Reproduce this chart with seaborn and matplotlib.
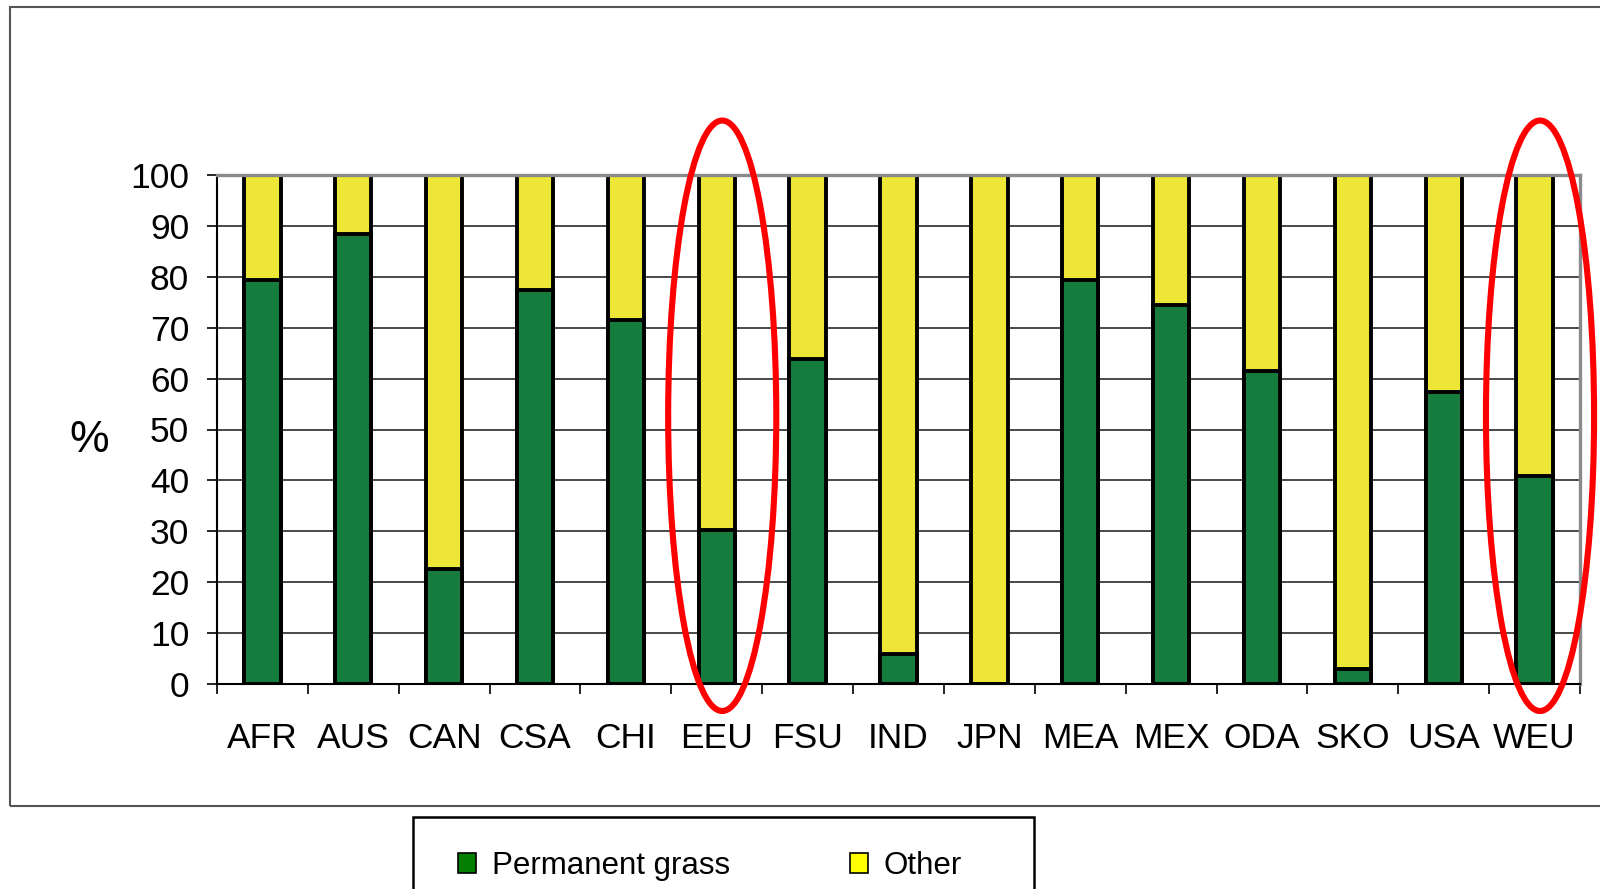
import matplotlib
matplotlib.use("Agg")
import matplotlib.pyplot as plt
from matplotlib.patches import Ellipse, Rectangle, Patch
import numpy as np
import pandas as pd
import seaborn as sns

# Share of land use by region (%)
regions = ["AFR", "AUS", "CAN", "CSA", "CHI", "EEU", "FSU", "IND",
           "JPN", "MEA", "MEX", "ODA", "SKO", "USA", "WEU"]
permanent_grass = [79.4, 88.4, 22.6, 77.4, 71.6, 30.2, 63.8, 5.8,
                   0.0, 79.4, 74.4, 61.4, 3.0, 57.4, 40.8]
other = [20.6, 11.6, 77.4, 22.6, 28.4, 69.8, 36.2, 94.2,
         100.0, 20.6, 25.6, 38.6, 97.0, 42.6, 59.2]
series_labels = ["Permanent grass", "Other"]
highlighted = ["EEU", "WEU"]
y_ticks = list(range(0, 101, 10))

GRASS_COLOR = "#157c3e"
OTHER_COLOR = "#ede637"
W, H = 1600, 889

sns.set_theme(style="white")
plt.rcParams["font.family"] = ["Liberation Sans", "DejaVu Sans"]
plt.rcParams["text.color"] = "black"
plt.rcParams["xtick.color"] = "black"
plt.rcParams["ytick.color"] = "black"
plt.rcParams["axes.labelcolor"] = "black"

fig = plt.figure(figsize=(W / 100, H / 100), dpi=100)
ax = fig.add_axes([217 / W, 1 - 684 / H, (1580 - 217) / W, (684 - 175) / H])

df = pd.DataFrame({"region": regions, "grass": permanent_grass, "other": other})
df["total"] = df["grass"] + df["other"]

bar_kw = dict(width=0.40, saturation=1, edgecolor="black", linewidth=2.8, ax=ax)
# stacked: full column in "other" colour, grass drawn from the base over it
sns.barplot(data=df, x="region", y="total", color=OTHER_COLOR, zorder=2, **bar_kw)
sns.barplot(data=df, x="region", y="grass", color=GRASS_COLOR, zorder=3, **bar_kw)

n = len(regions)
ax.set_xlim(-0.5, n - 0.5)
ax.set_ylim(0, 100)

# y axis
ax.set_yticks(y_ticks)
ax.set_yticklabels([str(v) for v in y_ticks])
ax.tick_params(axis="y", which="major", direction="out", length=7, width=1.2,
               color="black", labelcolor="black", labelsize=25.5, pad=13, left=True)
ax.yaxis.grid(True, color="#2a2a2a", linewidth=1.2)
ax.xaxis.grid(False)
ax.set_axisbelow(True)

# x axis: ticks on category boundaries, labels at centres
ax.set_xticks(np.arange(-0.5, n, 1.0))
ax.set_xticklabels([""] * (n + 1))
ax.set_xticks(np.arange(n), minor=True)
ax.set_xticklabels(regions, minor=True)
ax.tick_params(axis="x", which="major", direction="out", length=7, width=1.2,
               color="black", bottom=True)
ax.tick_params(axis="x", which="minor", length=0, labelsize=25.5,
               labelcolor="black", pad=27)
ax.set_xlabel("")

ax.set_ylabel("%", rotation=0, fontsize=32, color="black", va="center", ha="center")
ax.yaxis.set_label_coords((89 - 217) / (1580 - 217), (684 - 440) / (684 - 175))

for side in ("left", "bottom"):
    ax.spines[side].set_color("black")
    ax.spines[side].set_linewidth(1.5)
for side in ("top", "right"):
    ax.spines[side].set_color("#8a8a8a")
    ax.spines[side].set_linewidth(2.4)

# highlight rings around selected regions
for name in highlighted:
    i = regions.index(name)
    ax.add_patch(Ellipse((i + 0.06, 52.7), width=1.19, height=116, fill=False,
                         edgecolor="red", linewidth=4.4, clip_on=False, zorder=6))

# outer chart frame
fig.add_artist(Rectangle((10 / W, 1 - 806 / H), 1.05, (806 - 7) / H,
                         transform=fig.transFigure, fill=False,
                         edgecolor="#555555", linewidth=1.5))

# legend box
fig.add_artist(Rectangle((413 / W, -0.05), (1034 - 413) / W, (H - 817) / H + 0.05,
                         transform=fig.transFigure, fill=False,
                         edgecolor="black", linewidth=1.8))
handles = [Patch(facecolor="#007f00", edgecolor="black", linewidth=1.2),
           Patch(facecolor="#ffff00", edgecolor="black", linewidth=1.2)]
fig.legend(handles, series_labels, loc="center left",
           bbox_to_anchor=(458 / W, 1 - 866 / H), ncol=2, frameon=False,
           fontsize=22.5, handlelength=0.58, handleheight=0.58,
           handletextpad=0.5, columnspacing=3.85, borderpad=0, borderaxespad=0)

fig.savefig("out.png", dpi=100)
